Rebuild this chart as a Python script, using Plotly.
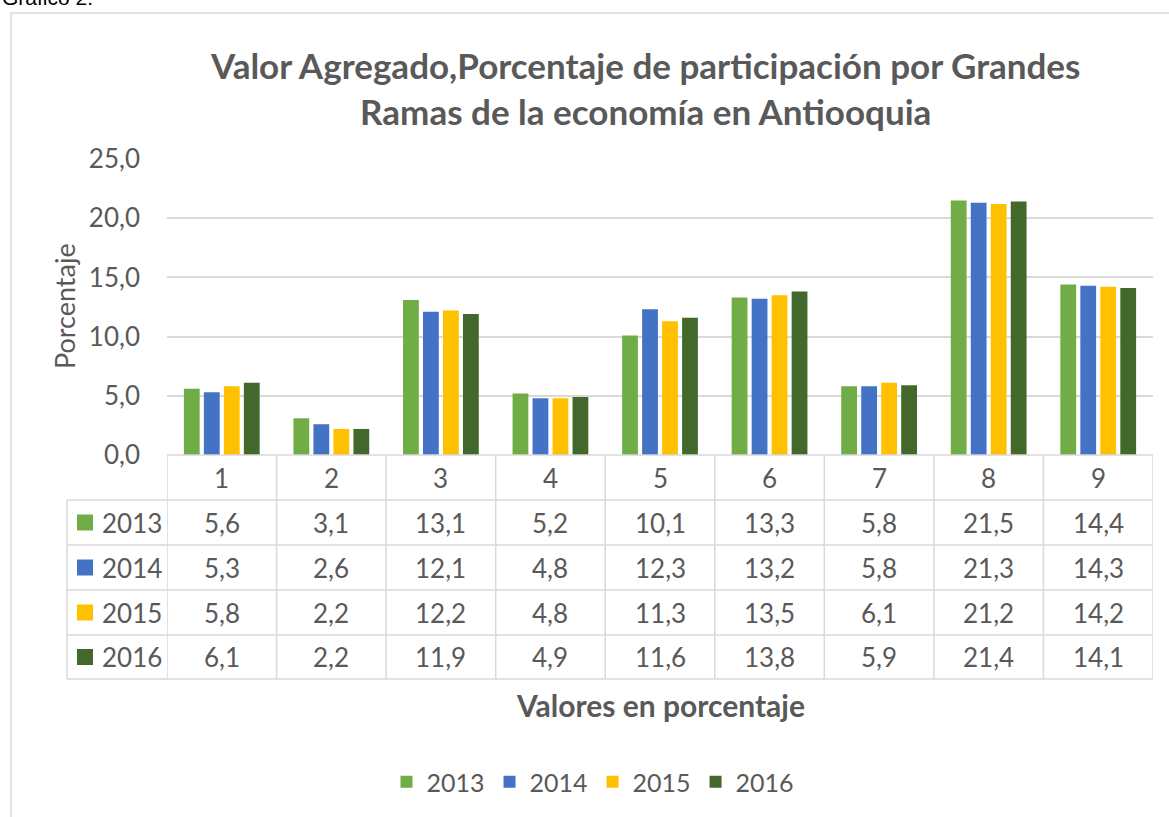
import plotly.graph_objects as go

# ---------------- data ----------------
categories = ["1", "2", "3", "4", "5", "6", "7", "8", "9"]
years = ["2013", "2014", "2015", "2016"]
v2013 = [5.6, 3.1, 13.1, 5.2, 10.1, 13.3, 5.8, 21.5, 14.4]
v2014 = [5.3, 2.6, 12.1, 4.8, 12.3, 13.2, 5.8, 21.3, 14.3]
v2015 = [5.8, 2.2, 12.2, 4.8, 11.3, 13.5, 6.1, 21.2, 14.2]
v2016 = [6.1, 2.2, 11.9, 4.9, 11.6, 13.8, 5.9, 21.4, 14.1]
series = [v2013, v2014, v2015, v2016]
colors = ["#70AD47", "#4472C4", "#FFC000", "#43682B"]
y_ticks = [0, 5, 10, 15, 20, 25]

title_text = "Valor Agregado,Porcentaje de participación por Grandes<br>Ramas de la economía en Antiooquia"
ytitle_text = "Porcentaje"
xtitle_text = "Valores en porcentaje"
caption_text = "Gráfico 2."

# ---------------- geometry (pixels) ----------------
W, H = 1169, 817
L, R, T, B = 167, 1153, 159, 455
PW, PH = R - L, B - T
FONT = "Lato"
GREY = "#595959"
LINE = "#D9D9D9"

def px(xp):
    return (xp - L) / PW

def py(yp):
    return (B - yp) / PH

def fmt(v):
    return f"{v:.1f}".replace(".", ",")

x_idx = list(range(1, len(categories) + 1))

fig = go.Figure()
for name, vals, col in zip(years, series, colors):
    fig.add_trace(go.Bar(x=x_idx, y=vals, name=name, marker_color=col,
                         marker_line_width=0, hoverinfo="skip"))

shapes = []
annotations = []

# outer chart border (left and top visible)
shapes.append(dict(type="rect", xref="paper", yref="paper",
                   x0=px(11), x1=px(1185), y0=py(13), y1=py(840),
                   line=dict(color=LINE, width=1.5), fillcolor="rgba(0,0,0,0)", layer="below"))

# data table lines
row_lines = [455, 500, 545, 590, 635, 679]
for i, yl in enumerate(row_lines):
    if i == 0:
        shapes.append(dict(type="line", xref="x", yref="paper", x0=0.5, x1=len(categories) + 0.5,
                           y0=py(yl), y1=py(yl), line=dict(color=LINE, width=1.5)))
    else:
        shapes.append(dict(type="line", xref="paper", yref="paper", x0=px(67), x1=1,
                           y0=py(yl), y1=py(yl), line=dict(color=LINE, width=1.5)))
for k in range(len(categories) + 1):
    shapes.append(dict(type="line", xref="x", yref="paper", x0=0.5 + k, x1=0.5 + k,
                       y0=py(455), y1=py(679), line=dict(color=LINE, width=1.5)))
shapes.append(dict(type="line", xref="paper", yref="paper", x0=px(67), x1=px(67),
                   y0=py(500), y1=py(679), line=dict(color=LINE, width=1.5)))

CELL = 26
# header row: category labels
for xi, c in zip(x_idx, categories):
    annotations.append(dict(x=xi, y=py(477.5), xref="x", yref="paper", text=c, showarrow=False,
                            font=dict(family=FONT, size=CELL, color=GREY), xanchor="center", yanchor="middle"))

# body rows
row_centers = [522.5, 567.5, 612.5, 657]
for yc, name, vals, col in zip(row_centers, years, series, colors):
    shapes.append(dict(type="rect", xref="paper", yref="paper", x0=px(77), x1=px(93),
                       y0=py(yc - 8), y1=py(yc + 8), fillcolor=col, line=dict(width=0)))
    annotations.append(dict(x=px(100), y=py(yc), xref="paper", yref="paper", text=name, showarrow=False,
                            font=dict(family=FONT, size=CELL, color=GREY), xanchor="left", yanchor="middle"))
    for xi, v in zip(x_idx, vals):
        annotations.append(dict(x=xi, y=py(yc), xref="x", yref="paper", text=fmt(v), showarrow=False,
                                font=dict(family=FONT, size=CELL, color=GREY), xanchor="center", yanchor="middle"))

# title
annotations.append(dict(x=px(645), y=py(88), xref="paper", yref="paper", text=title_text, showarrow=False,
                        font=dict(family=FONT, size=35, color=GREY, weight="bold"),
                        xanchor="center", yanchor="middle", align="center"))
# y axis title
annotations.append(dict(x=px(64), y=py(306), xref="paper", yref="paper", text=ytitle_text, showarrow=False,
                        textangle=-90, font=dict(family=FONT, size=27, color=GREY),
                        xanchor="center", yanchor="middle"))
# x axis title
annotations.append(dict(x=px(660), y=py(705), xref="paper", yref="paper", text=xtitle_text, showarrow=False,
                        font=dict(family=FONT, size=30, color=GREY, weight="bold"),
                        xanchor="center", yanchor="middle"))
# caption above chart (partly cut off at the top, as in the source)
annotations.append(dict(x=px(0), y=py(11), xref="paper", yref="paper", text=caption_text, showarrow=False,
                        font=dict(family="Liberation Sans", size=21, color="#000000"),
                        xanchor="left", yanchor="bottom"))

fig.update_layout(
    width=W, height=H,
    margin=dict(l=L, r=W - R, t=T, b=H - B, pad=0),
    paper_bgcolor="white", plot_bgcolor="white",
    separators=",.",
    barmode="group", bargap=0.27, bargroupgap=0.21,
    xaxis=dict(range=[0.5, len(categories) + 0.5], showticklabels=False, showgrid=False,
               zeroline=False, showline=False, ticks=""),
    yaxis=dict(range=[0, 25], tickvals=y_ticks, tickformat=".1f", showgrid=True,
               gridcolor=LINE, gridwidth=1.5, zeroline=False, showline=False, ticks="",
               ticklabelstandoff=26,
               tickfont=dict(family=FONT, size=26, color=GREY)),
    showlegend=True,
    legend=dict(orientation="h", x=px(593), xanchor="center", y=py(782), yanchor="middle",
                font=dict(family=FONT, size=25, color=GREY), bgcolor="rgba(0,0,0,0)"),
    shapes=shapes,
    annotations=annotations,
)

fig.write_html("out.html", config={"displayModeBar": False},
               post_script="document.body.style.margin='0px';")
